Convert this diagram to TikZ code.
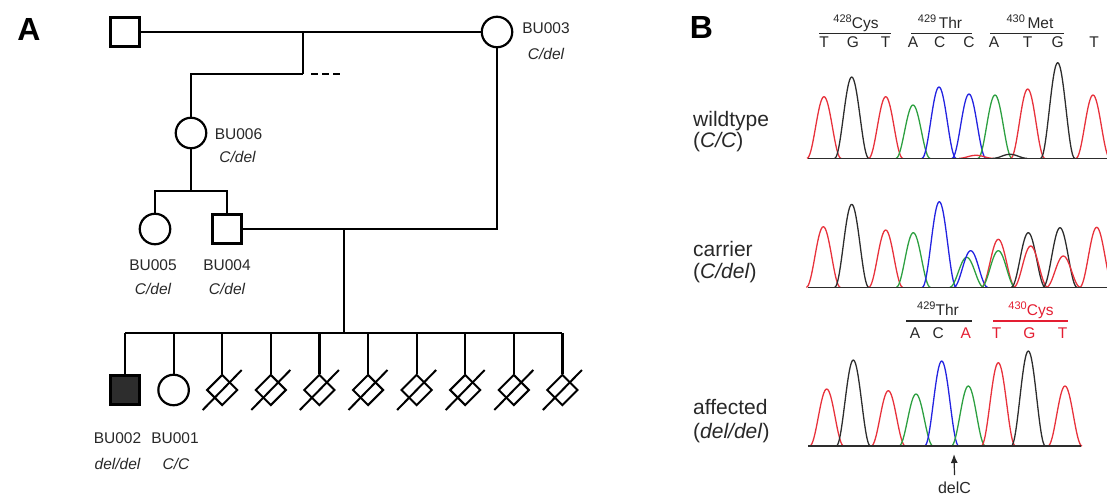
\documentclass[tikz,border=0pt]{standalone}
\usepackage{fontspec}
\setmainfont{Liberation Sans}
\usepackage{xcolor}
\usetikzlibrary{shapes.geometric,arrows.meta}

\definecolor{trRed}{RGB}{232,50,60}
\definecolor{trGreen}{RGB}{45,160,65}
\definecolor{trBlue}{RGB}{35,35,225}
\definecolor{trBlack}{RGB}{45,45,45}
\definecolor{txtGray}{RGB}{40,40,40}
\definecolor{muRed}{RGB}{228,30,50}

% residue number, set small and raised
\newcommand{\resno}[1]{\raisebox{6.5pt}{\fontsize{11}{12}\selectfont #1}}
% one peak of a trace: colour, centre, height, baseline
\newcommand{\peak}[4]{%
  \draw[#1, line width=1.3pt, line join=round] plot[domain=-17:17, samples=35, smooth]
    ({#2+\x},{#4-#3*(1+cos(\x*180/17))/2});}

\tikzset{
  male/.style={draw, line width=2.2pt, minimum size=29pt, inner sep=0pt},
  female/.style={draw, circle, line width=2.2pt, minimum size=30.5pt, inner sep=0pt},
  lost/.style={draw, diamond, line width=2pt, minimum size=31pt, inner sep=0pt},
  ped/.style={line width=2.2pt},
  idlbl/.style={text=txtGray, font=\fontsize{15.5}{18}\selectfont, inner sep=0pt},
  gtlbl/.style={idlbl, font=\fontsize{15.5}{18}\selectfont\itshape},
  panel/.style={font=\fontsize{32}{34}\selectfont\bfseries, inner sep=0pt},
  rowlbl/.style={text=txtGray, font=\fontsize{21}{22}\selectfont, inner sep=0pt, anchor=base west},
  seqlbl/.style={text=txtGray, font=\fontsize{15.5}{17}\selectfont, inner sep=0pt, anchor=base},
  codon/.style={line width=1.2pt, txtGray},
  traceline/.style={line width=1.4pt, trBlack}
}

\begin{document}
\begin{tikzpicture}[x=1pt, y=-1pt, >=latex]
    \useasboundingbox (0,0) rectangle (1107,497);

    % Panel letters
    \node[panel] (pa) at (29,29) {A};
    \node[panel] (pb) at (701.5,27) {B};

    % First generation
    \node[male] (f1) at (125,32) {};
    \node[female] (m1) at (497,32) {};
    \node[idlbl] (n3) at (546,28) {BU003};
    \node[gtlbl] (g3) at (546,54) {C/del};
    \draw[ped] (f1.east) -- (m1.west);
    \coordinate (mate1) at (303,32);
    \coordinate (sib1) at (303,74);
    \draw[ped] (mate1) -- (sib1);
    \draw[ped, dash pattern=on 7pt off 4pt] ([xshift=8pt]sib1) -- ([xshift=37pt]sib1);

    % BU006 and her children
    \node[female] (bu6) at (191,133) {};
    \node[idlbl] (n6) at (238.5,134) {BU006};
    \node[gtlbl] (g6) at (237.5,157) {C/del};
    \draw[ped] (sib1) -| (bu6.north);
    \coordinate (sib2) at (191,191);
    \draw[ped] (bu6.south) -- (sib2);

    \node[female] (bu5) at (155,229) {};
    \node[male] (bu4) at (227,229) {};
    \node[idlbl] (n5) at (153,265) {BU005};
    \node[gtlbl] (g5) at (153,288.5) {C/del};
    \node[idlbl] (n4) at (227,265) {BU004};
    \node[gtlbl] (g4) at (227,288.5) {C/del};
    \draw[ped] (bu5.north) |- (sib2) -| (bu4.north);

    % Marriage BU004 x BU003
    \draw[ped] (bu4.east) -| (m1.south);
    \coordinate (mate2) at (344,229);
    \coordinate (sib3) at (344,333);
    \draw[ped] (mate2) -- (sib3);

    % Sibship of ten
    \node[male, fill=trBlack] (c1) at (125,390) {};
    \node[female] (c2) at (173.6,390) {};
    \foreach \i in {3,...,10} {
        \node[lost] (c\i) at ({125+48.6*(\i-1)},390) {};
        \draw[ped, line width=2pt] ([shift={(-19.5,20)}]c\i.center) -- ([shift={(19.5,-20)}]c\i.center);
    }
    \draw[ped] (c1.north |- sib3) -- (c10.north |- sib3);
    \foreach \i in {1,...,10} {
        \draw[ped] (c\i.north) -- (c\i.north |- sib3);
    }
    \node[idlbl] (n2) at (117.5,438.6) {BU002};
    \node[gtlbl] (g2) at (117.5,464) {del/del};
    \node[idlbl] (n1) at (175,438.6) {BU001};
    \node[gtlbl] (g1) at (176,464) {C/C};

    % Wildtype trace
    \node[seqlbl] (wc1) at (856,29) {\resno{428}Cys};
    \node[seqlbl] (wc2) at (940,29) {\resno{429}\,Thr};
    \node[seqlbl] (wc3) at (1030,29) {\resno{430}\,Met};
    \draw[codon] (819,33.7) -- (891,33.7);
    \draw[codon] (911,33.7) -- (972,33.7);
    \draw[codon] (990,33.7) -- (1064,33.7);
    \foreach \lx/\lt [count=\k] in {824/T,853/G,885.7/T,913/A,939.7/C,969/C,994/A,1027.7/T,1057.7/G,1094/T}
        \node[seqlbl] (wl\k) at (\lx,47.7) {\lt};
    \node[rowlbl] (wt1) at (693,126.7) {wildtype};
    \node[rowlbl] (wt2) at (693,147.3) {(\textit{C/C})};
    \foreach \pc/\px/\ph in {trRed/824/61.6, trBlack/851.7/81.3, trRed/885.7/61.6, trGreen/913/53.3,
        trBlue/939/71.3, trBlue/969/64.3, trGreen/995/63.3, trRed/1027.7/69.3, trBlack/1057.7/95.6, trRed/1093/63.3,
        trRed/976/3, trBlack/1010/4}
        \peak{\pc}{\px}{\ph}{158.3}
    \draw[traceline] (808,158.3) -- (1107,158.3);

    % Carrier trace
    \node[rowlbl] (ca1) at (693,256.7) {carrier};
    \node[rowlbl] (ca2) at (693,278.3) {(\textit{C/del})};
    \foreach \pc/\px/\ph in {trRed/823.3/60.6, trBlack/851.7/83, trRed/885.7/57.3, trGreen/913.3/54.6,
        trBlue/939.3/85.6, trGreen/966.7/30, trBlue/970.7/36.6, trRed/998.3/48, trGreen/998.3/36.6,
        trBlack/1028.3/54.6, trRed/1030.7/41.3, trBlack/1060/59.6, trRed/1063.3/31.3, trRed/1096.7/60}
        \peak{\pc}{\px}{\ph}{287.3}
    \draw[traceline] (808,287.3) -- (1107,287.3);

    % Affected trace
    \node[seqlbl] (ac1) at (938,315.7) {\resno{429}Thr};
    \node[seqlbl, text=muRed] (ac2) at (1031,315.7) {\resno{430}Cys};
    \draw[codon] (906,321) -- (971.7,321);
    \draw[codon, muRed] (993,321) -- (1068,321);
    \foreach \lx/\lt/\lc [count=\k] in {915/A/txtGray,938.3/C/txtGray,965.7/A/muRed,996.7/T/muRed,1029.3/G/muRed,1062.5/T/muRed}
        \node[seqlbl, text=\lc] (al\k) at (\lx,338.3) {\lt};
    \node[rowlbl] (af1) at (693,414.3) {affected};
    \node[rowlbl] (af2) at (693,438) {(\textit{del/del})};
    \foreach \pc/\px/\ph in {trRed/826.7/57, trBlack/853.3/86, trRed/888.3/55.3, trGreen/916/52,
        trBlue/941.7/85, trGreen/968.3/60, trRed/998.3/83.3, trBlack/1028.3/95, trRed/1065/60}
        \peak{\pc}{\px}{\ph}{446}
    \draw[traceline] (808,446) -- (1081,446);

    % Deletion site
    \coordinate (delpos) at (954,454);
    \node[text=txtGray, font=\fontsize{16}{18}\selectfont, inner sep=0pt, anchor=base] (delc) at (954.5,493) {delC};
    \draw[line width=1.2pt, txtGray, -{Latex[length=9pt,width=7pt]}] ([yshift=6pt]delc.north) -- (delpos);
\end{tikzpicture}
\end{document}
